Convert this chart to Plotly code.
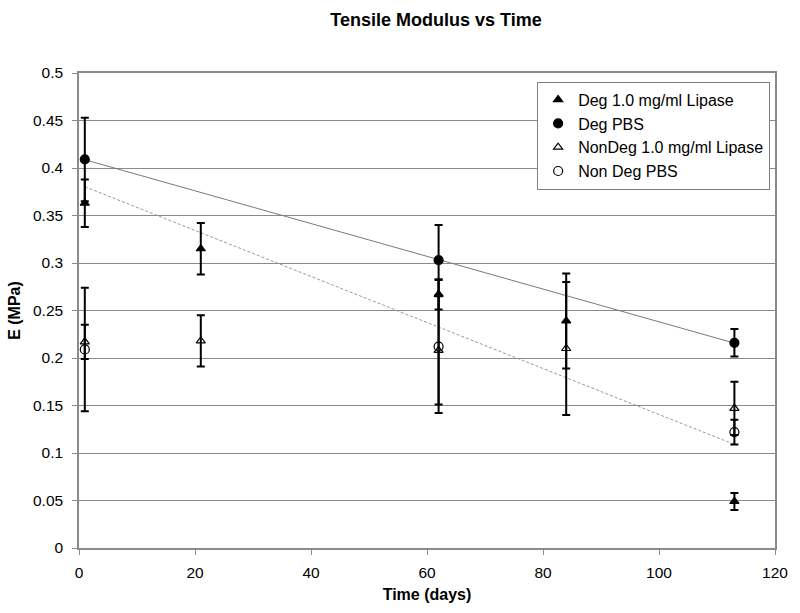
import numpy as np
import plotly.graph_objects as go

days = [1, 21, 62, 84, 113]
pbs_days = [1, 62, 113]

deg_lipase = [0.363, 0.315, 0.267, 0.239, 0.049]
deg_lipase_err = [0.025, 0.027, 0.016, 0.050, 0.009]

deg_pbs = [0.409, 0.303, 0.216]
deg_pbs_err = [0.044, 0.037, 0.0145]

nondeg_lipase = [0.217, 0.218, 0.208, 0.210, 0.147]
nondeg_lipase_err = [0.018, 0.027, 0.057, 0.070, 0.028]

nondeg_pbs = [0.209, 0.212, 0.122]
nondeg_pbs_err = [0.065, 0.070, 0.013]

FONT = "Liberation Sans, Arial, sans-serif"
GRID = "#8a8a8a"

fig = go.Figure()

# linear trendlines (least-squares fit from the data)
def trend(xs, ys):
    m, b = np.polyfit(xs, ys, 1)
    x0, x1 = min(xs), max(xs)
    return [x0, x1], [m * x0 + b, m * x1 + b]

tx, ty = trend(pbs_days, deg_pbs)
fig.add_trace(go.Scatter(x=tx, y=ty, mode="lines", showlegend=False,
                         line=dict(color="#7a7a7a", width=1), hoverinfo="skip"))
tx, ty = trend(days, deg_lipase)
fig.add_trace(go.Scatter(x=tx, y=ty, mode="lines", showlegend=False,
                         line=dict(color="#999999", width=1, dash="3px,2px"),
                         hoverinfo="skip"))

def series(x, y, err, name, symbol, size):
    fig.add_trace(go.Scatter(
        x=x, y=y, mode="markers", name=name,
        marker=dict(symbol=symbol, size=size, color="black",
                    line=dict(color="black", width=1.2)),
        error_y=dict(type="data", array=err, visible=True, color="black",
                     thickness=2, width=4),
    ))

series(days, deg_lipase, deg_lipase_err, "Deg 1.0 mg/ml Lipase", "triangle-up", 8)
series(pbs_days, deg_pbs, deg_pbs_err, "Deg PBS", "circle", 9)
series(days, nondeg_lipase, nondeg_lipase_err, "NonDeg 1.0 mg/ml Lipase", "triangle-up-open", 8)
series(pbs_days, nondeg_pbs, nondeg_pbs_err, "Non Deg PBS", "circle-open", 9)

fig.update_layout(
    width=800, height=613,
    paper_bgcolor="white", plot_bgcolor="white",
    margin=dict(l=79, r=23, t=73, b=64),
    font=dict(family=FONT, size=15.5, color="black"),
    title=dict(text="<b>Tensile Modulus vs Time</b>", x=0.545, xanchor="center",
               xref="container", y=0.968, yanchor="middle", font=dict(size=18)),
    showlegend=True,
    legend=dict(x=0.993, y=0.9817, xanchor="right", yanchor="top",
                bgcolor="white", bordercolor="#808080", borderwidth=1,
                font=dict(size=16), itemwidth=30),
    xaxis=dict(range=[0, 120], dtick=20, showgrid=False, zeroline=False,
               showline=True, linecolor=GRID, linewidth=1.5, mirror=True,
               ticks="outside", ticklen=5, tickcolor=GRID, ticklabelstandoff=5,
               title=dict(text="<b>Time (days)</b>", standoff=8, font=dict(size=16))),
    yaxis=dict(range=[0, 0.5], dtick=0.05, tickformat="~g", showgrid=True,
               gridcolor=GRID, gridwidth=1, zeroline=False,
               showline=True, linecolor=GRID, linewidth=1.5, mirror=True,
               ticks="outside", ticklen=5, tickcolor=GRID, ticklabelstandoff=6,
               title=dict(text="<b>E (MPa)</b>", standoff=8, font=dict(size=16))),
)

fig.write_html("out.html", config={"displayModeBar": False},
               post_script="document.body.style.margin='0';document.body.style.overflow='hidden';")
